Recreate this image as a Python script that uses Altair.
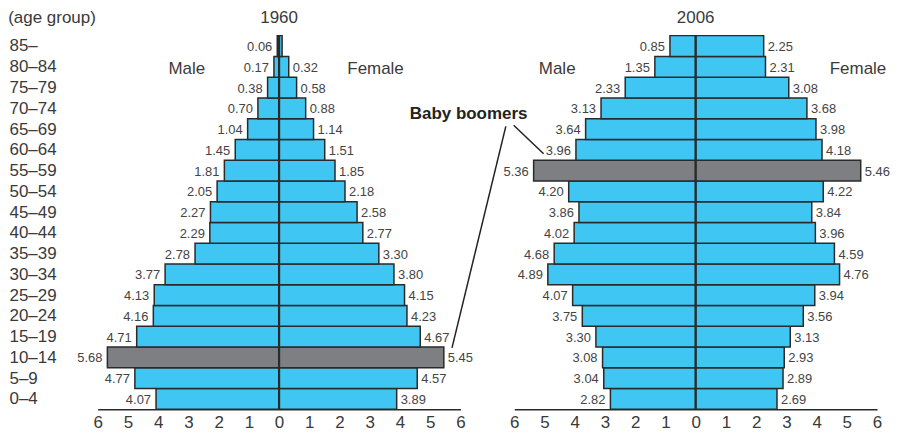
import altair as alt
import pandas as pd

# ---- data (bottom row first) ----
ages = ["0–4", "5–9", "10–14", "15–19", "20–24", "25–29", "30–34", "35–39",
        "40–44", "45–49", "50–54", "55–59", "60–64", "65–69", "70–74",
        "75–79", "80–84", "85–"]

male_1960 = [4.07, 4.77, 5.68, 4.71, 4.16, 4.13, 3.77, 2.78, 2.29, 2.27,
             2.05, 1.81, 1.45, 1.04, 0.70, 0.38, 0.17, 0.06]
female_1960 = [3.89, 4.57, 5.45, 4.67, 4.23, 4.15, 3.80, 3.30, 2.77, 2.58,
               2.18, 1.85, 1.51, 1.14, 0.88, 0.58, 0.32, 0.10]
male_2006 = [2.82, 3.04, 3.08, 3.30, 3.75, 4.07, 4.89, 4.68, 4.02, 3.86,
             4.20, 5.36, 3.96, 3.64, 3.13, 2.33, 1.35, 0.85]
female_2006 = [2.69, 2.89, 2.93, 3.13, 3.56, 3.94, 4.76, 4.59, 3.96, 3.84,
               4.22, 5.46, 4.18, 3.98, 3.68, 3.08, 2.31, 2.25]

highlight = {"1960": "10–14", "2006": "55–59"}
hidden_labels = {("1960", "Female", "85–")}  # value not printed in original

ticks = [-6, -5, -4, -3, -2, -1, 0, 1, 2, 3, 4, 5, 6]

# annotation positions (x in % units, y in rows from bottom)
title_y = 18.61
age_title = ["(age group)"]
age_title_x = [-8.96]
sex_label_text = ["Male", "Female"]
sex_label_x = {"1960": [-3.05, 3.19], "2006": [-4.58, 5.37]}
sex_label_y = [16.37, 16.37]

bb_text = ["Baby boomers"]
bb_x = [-7.51]
bb_y = [14.23]
bb_lines_x = [-6.02, -6.28]
bb_lines_y = [13.68, 13.63]
bb_lines_x2 = [-5.03, -8.06]
bb_lines_y2 = [12.31, 2.96]

FONT = "Liberation Sans"
BLUE = "#3FC6F2"
GRAY = "#7E7F83"
DARK = "#2A2A2A"
TXT = "#3A3A3A"

W, H = 364, 375
NROWS = len(ages)


def build_df(year, male, female):
    rows = []
    for i, a in enumerate(ages):
        for sex, vals, sign in (("Male", male, -1), ("Female", female, 1)):
            rows.append({
                "age": a, "sex": sex, "val": vals[i], "v": sign * vals[i],
                "r0": i, "r1": i + 1, "rc": i + 0.5,
                "hl": a == highlight[year],
                "show": (year, sex, a) not in hidden_labels,
            })
    return pd.DataFrame(rows)


label_expr = "[" + ",".join("'%s'" % a for a in ages) + "][floor(datum.value)]"

xscale = alt.Scale(domain=[-6, 6], nice=False, zero=False)
yscale = alt.Scale(domain=[0, NROWS], nice=False, zero=False)

xaxis = alt.Axis(values=ticks, labelExpr="abs(datum.value)", ticks=False,
                 grid=False, domainColor=DARK, domainWidth=1.5,
                 labelFontSize=17, labelColor=TXT, labelPadding=5,
                 labelFlush=False, labelOverlap=False, title=None, labelFont=FONT)

yaxis1 = alt.Axis(values=[i + 0.5 for i in range(NROWS)], labelExpr=label_expr,
                  labelAlign="left", labelPadding=89, ticks=False,
                  labelOverlap=False, domain=False, grid=False,
                  labelFontSize=17, labelColor=TXT, labelFont=FONT,
                  title=None)


def panel(year, male, female, first):
    df = build_df(year, male, female)
    base = alt.Chart(df)
    yaxis = yaxis1 if first else None

    def X(f):
        return alt.X(f, scale=xscale, axis=xaxis)

    def Y(f):
        return alt.Y(f, scale=yscale, axis=yaxis)

    bars = base.mark_rect(stroke=DARK, strokeWidth=1.5).encode(
        x=X("v:Q"),
        x2=alt.datum(0),
        y=Y("r0:Q"),
        y2="r1:Q",
        color=alt.condition("datum.hl", alt.value(GRAY), alt.value(BLUE)),
    )

    center = alt.Chart(pd.DataFrame({"z": [0], "top": [NROWS]})).mark_rule(
        color=DARK, strokeWidth=2.2).encode(
        x=X("z:Q"), y=Y("z:Q"), y2="top:Q")

    lab_m = base.transform_filter("datum.sex == 'Male'").mark_text(
        align="right", baseline="middle", dx=-5, dy=1, fontSize=13,
        color="#444", font=FONT).encode(
        x=X("v:Q"), y=Y("rc:Q"), text=alt.Text("val:Q", format=".2f"))
    lab_f = base.transform_filter("datum.sex == 'Female' && datum.show").mark_text(
        align="left", baseline="middle", dx=4, dy=1, fontSize=13,
        color="#444", font=FONT).encode(
        x=X("v:Q"), y=Y("rc:Q"), text=alt.Text("val:Q", format=".2f"))

    sexdf = pd.DataFrame({"t": sex_label_text, "x": sex_label_x[year], "y": sex_label_y})
    sexlab = alt.Chart(sexdf).mark_text(
        fontSize=17, color=TXT, font=FONT, baseline="middle").encode(
        x=X("x:Q"), y=Y("y:Q"), text="t:N")

    titledf = pd.DataFrame({"t": [year], "x": [0], "y": [title_y]})
    title = alt.Chart(titledf).mark_text(
        fontSize=17, color=TXT, font=FONT, baseline="alphabetic").encode(
        x=X("x:Q"), y=Y("y:Q"), text="t:N")

    layers = [bars, center, lab_m, lab_f, sexlab, title]

    if first:
        agedf = pd.DataFrame({"t": age_title, "x": age_title_x, "y": [title_y]})
        layers.append(alt.Chart(agedf).mark_text(
            fontSize=17, color=TXT, font=FONT, baseline="alphabetic",
            align="left").encode(x=X("x:Q"), y=Y("y:Q"), text="t:N"))
    else:
        bbdf = pd.DataFrame({"t": bb_text, "x": bb_x, "y": bb_y})
        bb = alt.Chart(bbdf).mark_text(
            fontSize=17, fontWeight="bold", color="#222", font=FONT,
            baseline="middle").encode(x=X("x:Q"), y=Y("y:Q"), text="t:N")
        ldf = pd.DataFrame({"x": bb_lines_x, "y": bb_lines_y,
                            "x2": bb_lines_x2, "y2": bb_lines_y2})
        lines = alt.Chart(ldf).mark_rule(color="#222", strokeWidth=1.5).encode(
            x=X("x:Q"), y=Y("y:Q"), x2="x2:Q", y2="y2:Q")
        layers += [bb, lines]

    return alt.layer(*layers).properties(width=W, height=H)


p1 = panel("1960", male_1960, female_1960, True)
p2 = panel("2006", male_2006, female_2006, False)

chart = alt.hconcat(p1, p2, spacing=54, bounds="flush").properties(
    padding=0
).configure(font=FONT).configure_view(stroke=None)

chart.save("out.html", embed_options={"renderer": "svg", "actions": False})
